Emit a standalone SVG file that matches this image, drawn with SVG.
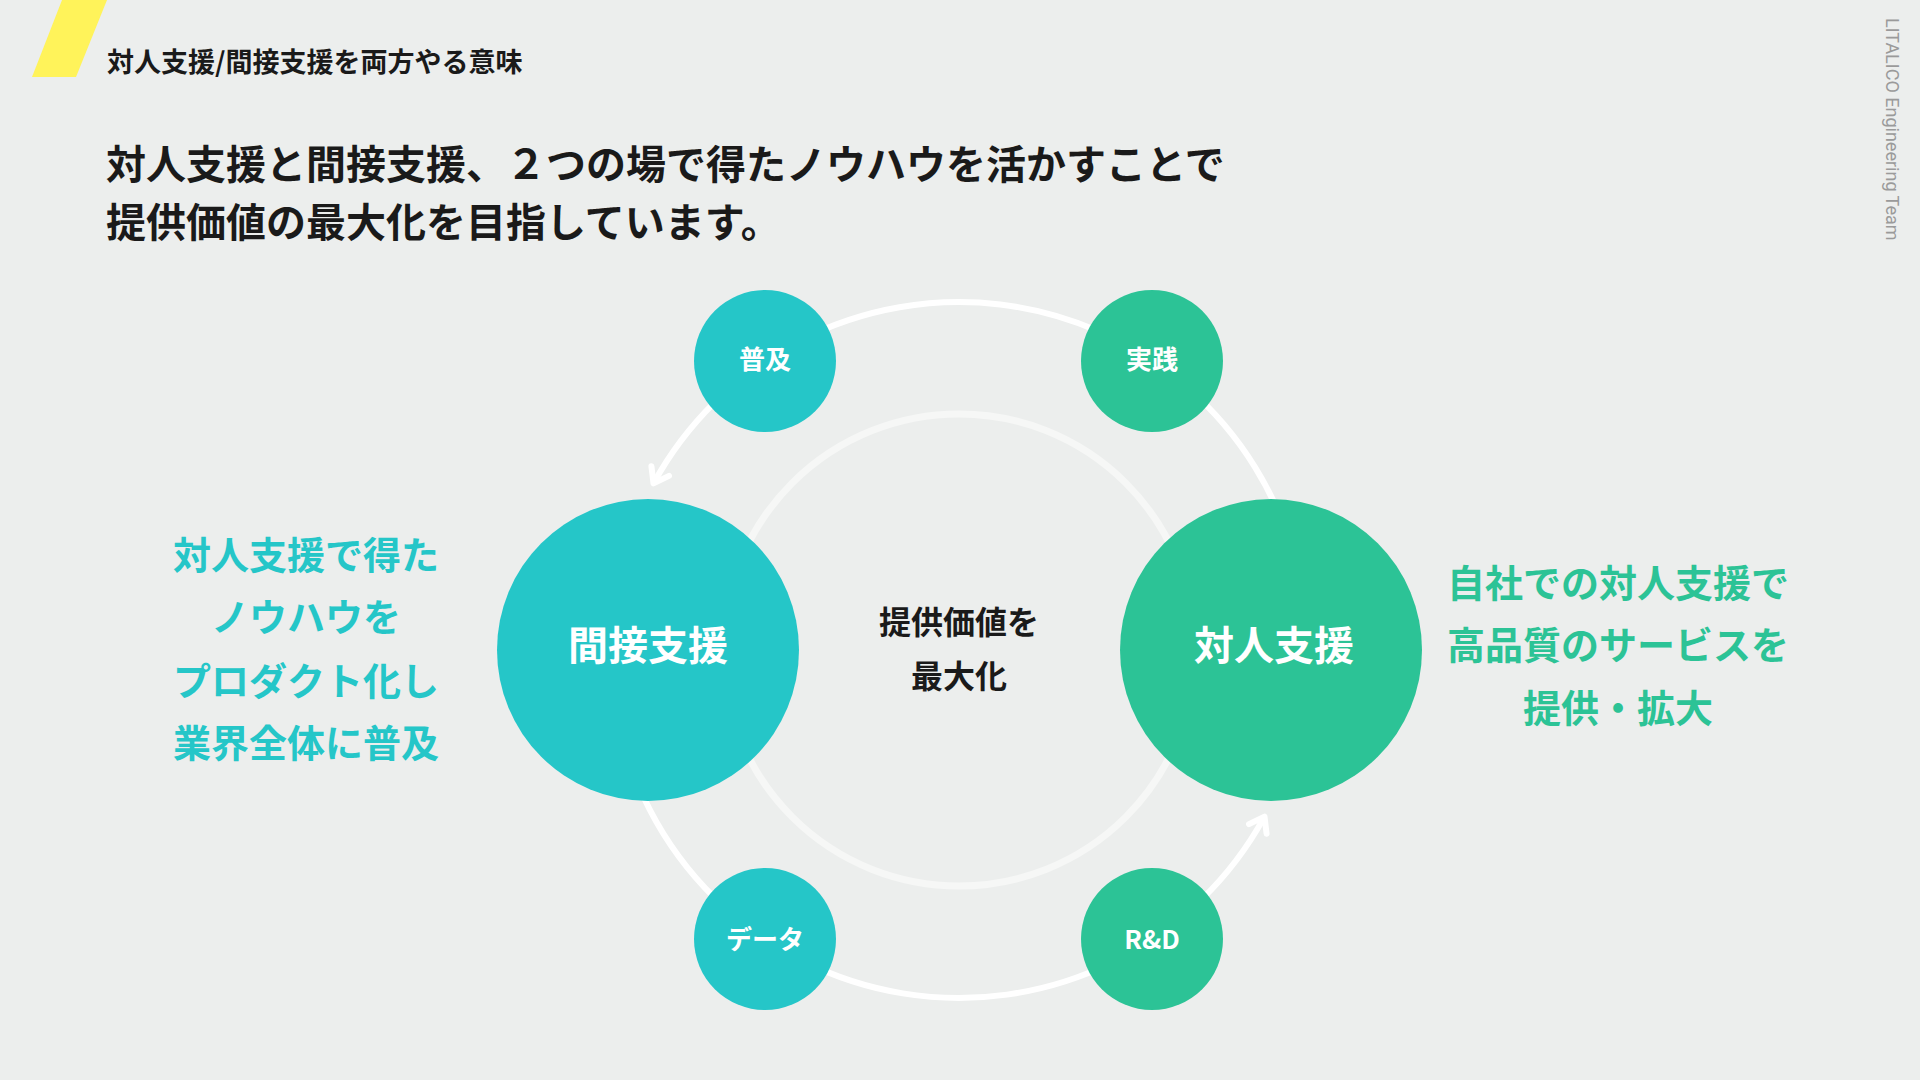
<svg xmlns="http://www.w3.org/2000/svg" width="1920" height="1080" viewBox="0 0 1920 1080">
  <style>
    .jp { font-family: "Noto Sans CJK JP", "Noto Sans", sans-serif; font-weight: 700; }
    .title { font-size: 27px; fill: #1a1a1a; }
    .lead { font-size: 40px; fill: #1a1a1a; }
    .big { font-size: 40px; fill: #ffffff; text-anchor: middle; }
    .small { font-size: 26px; fill: #ffffff; text-anchor: middle; }
    .center { font-size: 32px; fill: #1a1a1a; text-anchor: middle; }
    .side { font-size: 38px; text-anchor: middle; }
    .teal { fill: #25C6C8; }
    .green { fill: #2CC396; }
    .ring { fill: none; stroke: #ffffff; stroke-width: 6; }
    .inner { fill: none; stroke: #F6F7F6; stroke-width: 7; }
    .credit { font-family: Roboto, "Liberation Sans", sans-serif; font-size: 18px; fill: #9a9a9a; }
  </style>
  <defs>
    <marker id="arrow" markerUnits="userSpaceOnUse" markerWidth="40" markerHeight="40" viewBox="-20 -20 40 40" refX="0" refY="0" orient="auto">
      <path d="M-14,-10 L0,0 L-14,10" fill="none" stroke="#ffffff" stroke-width="6" stroke-linecap="round" stroke-linejoin="round"/>
    </marker>
  </defs>

  <rect width="1920" height="1080" fill="#ECEEED"/>

  <polygon points="62,0 107,0 76,77 32,77" fill="#FFF35A"/>
  <text class="jp title" x="107" y="72">対人支援/間接支援を両方やる意味</text>

  <text class="jp lead" x="106" y="179">対人支援と間接支援、２つの場で得たノウハウを活かすことで</text>
  <text class="jp lead" x="106" y="237">提供価値の最大化を目指しています。</text>

  <text class="credit" transform="translate(1886,18) rotate(90)">LITALICO Engineering Team</text>

  <circle class="inner" cx="959" cy="650" r="236"/>

  <g id="connectors">
    <path class="ring" d="M1295.1,559.9 A348,348 0 0 0 653.5,483.4" marker-end="url(#arrow)"/>
    <path class="ring" d="M616.3,710.4 A348,348 0 0 0 1264.5,816.6" marker-end="url(#arrow)"/>
  </g>

  <g id="node-center">
    <text class="jp center" x="959" y="634">提供価値を</text>
    <text class="jp center" x="959" y="688">最大化</text>
  </g>

  <g id="node-indirect">
    <circle cx="648" cy="650" r="151" class="teal"/>
    <text class="jp big" x="648" y="660">間接支援</text>
  </g>
  <g id="node-direct">
    <circle cx="1271" cy="650" r="151" class="green"/>
    <text class="jp big" x="1274" y="660">対人支援</text>
  </g>

  <g id="node-fukyu">
    <circle cx="765" cy="361" r="71" class="teal"/>
    <text class="jp small" x="765" y="369">普及</text>
  </g>
  <g id="node-jissen">
    <circle cx="1152" cy="361" r="71" class="green"/>
    <text class="jp small" x="1152" y="369">実践</text>
  </g>
  <g id="node-data">
    <circle cx="765" cy="939" r="71" class="teal"/>
    <text class="jp small" x="765" y="949">データ</text>
  </g>
  <g id="node-rd">
    <circle cx="1152" cy="939" r="71" class="green"/>
    <text class="jp small" x="1152" y="949">R&amp;D</text>
  </g>

  <g id="note-left">
    <text class="jp side teal" x="306" y="569">対人支援で得た</text>
    <text class="jp side teal" x="306" y="631">ノウハウを</text>
    <text class="jp side teal" x="306" y="695">プロダクト化し</text>
    <text class="jp side teal" x="306" y="757">業界全体に普及</text>
  </g>
  <g id="note-right">
    <text class="jp side green" x="1618" y="597">自社での対人支援で</text>
    <text class="jp side green" x="1618" y="659">高品質のサービスを</text>
    <text class="jp side green" x="1618" y="722">提供・拡大</text>
  </g>
</svg>
